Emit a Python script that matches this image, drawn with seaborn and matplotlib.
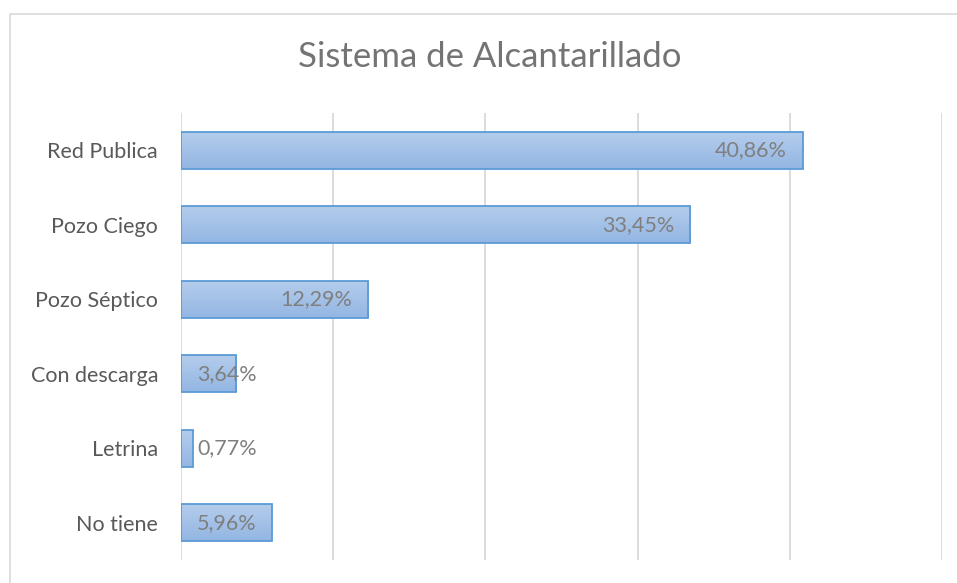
import matplotlib
matplotlib.use("Agg")
import matplotlib.pyplot as plt
import seaborn as sns
import numpy as np
import pandas as pd
from matplotlib.patches import Rectangle
from matplotlib.colors import LinearSegmentedColormap

categories = ["Red Publica", "Pozo Ciego", "Pozo Séptico", "Con descarga", "Letrina", "No tiene"]
values = [40.86, 33.45, 12.29, 3.64, 0.77, 5.96]
labels = ["40,86%", "33,45%", "12,29%", "3,64%", "0,77%", "5,96%"]
title = "Sistema de Alcantarillado"

sns.set_theme(style="white")
plt.rcParams['font.family'] = ['Lato', 'DejaVu Sans']

df = pd.DataFrame({"cat": categories, "val": values})

fig = plt.figure(figsize=(9.57, 5.83), dpi=100)
ax = fig.add_axes([181/957, 1-560/583, (942-181)/957, (560-113)/583])

sns.barplot(data=df, x="val", y="cat", orient="h", width=0.5,
            color="#a4c2e8", edgecolor="#5b9bd5", linewidth=1.3, ax=ax, zorder=3)

# gradient fill on each bar
grad = np.linspace(0, 1, 100).reshape(-1, 1)
cmap = LinearSegmentedColormap.from_list("g", ["#b5cdec", "#93b6e3"])
for p in ax.patches:
    x0, y0 = p.get_x(), p.get_y()
    w, h = p.get_width(), p.get_height()
    im = ax.imshow(grad, cmap=cmap, aspect="auto", extent=[x0, x0 + w, y0 + h, y0],
                   zorder=3.5, origin="upper")
    im.set_clip_path(p)
    p.set_facecolor("none")
    p.set_zorder(4)

ax.set_xlim(0, 50)
ax.set_ylim(5.5, -0.5)
ax.set_xticks([0, 10, 20, 30, 40, 50])
ax.set_xticklabels([])
ax.grid(axis="x", color="#d9d9d9", linewidth=1.3, zorder=0)
ax.grid(axis="y", visible=False)
for s in ax.spines.values():
    s.set_visible(False)
ax.set_xlabel("")
ax.set_ylabel("")
ax.tick_params(axis="y", length=0, pad=16.5, labelsize=15.5, labelcolor="#595959")
ax.tick_params(axis="x", length=0)

# data labels (inside end, shifted if not fitting)
pad = 1.05
lw_units = 3.95
for i, (v, t) in enumerate(zip(values, labels)):
    if v - pad - lw_units >= pad:
        ax.text(v - pad, i, t, ha="right", va="center", fontsize=15.5, color="#7f7f7f", zorder=6)
    else:
        ax.text(pad, i, t, ha="left", va="center", fontsize=15.5, color="#7f7f7f", zorder=6)

fig.text(490/957, 1-67/583, title, ha="center", va="baseline", fontsize=25,
         color="#747474")

# chart area border (partially visible)
fig.patches.append(Rectangle((10/957, -0.1), 1.2, 1 - 14/583 + 0.1, transform=fig.transFigure,
                             fill=False, edgecolor="#d9d9d9", linewidth=1.2, zorder=0))

fig.savefig("out.png", dpi=100)
